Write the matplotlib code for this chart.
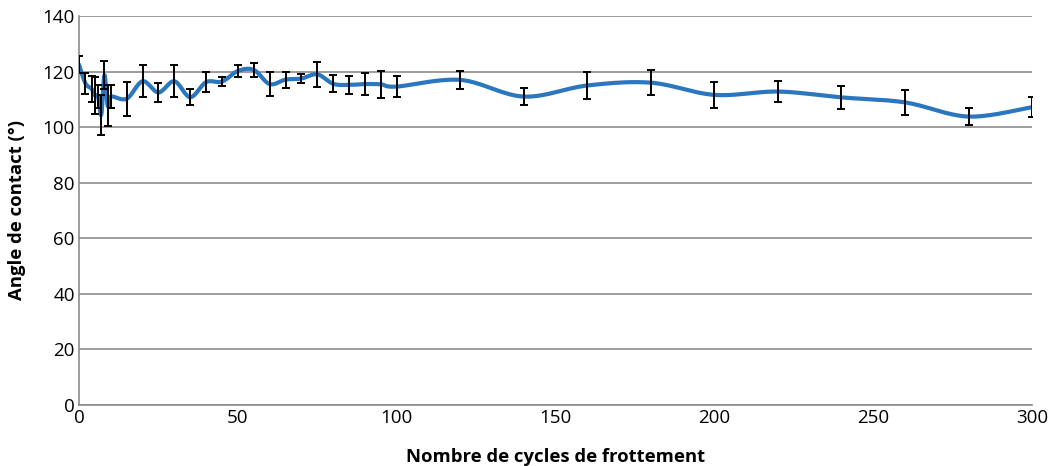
import numpy as np
import matplotlib
matplotlib.use('Agg')
import matplotlib.pyplot as plt

# cycles de frottement et angle de contact mesure (moyenne, ecart-type)
cycles = [0, 2, 4, 5, 6, 7, 8, 9, 10, 15, 20, 25, 30, 35, 40, 45, 50, 55,
          60, 65, 70, 75, 80, 85, 90, 95, 100, 120, 140, 160, 180, 200,
          220, 240, 260, 280, 300]
angle = [122.5, 115.8, 113.7, 111.4, 111.0, 104.5, 118.7, 107.7, 111.0,
         110.2, 116.5, 112.5, 116.5, 110.8, 116.2, 116.4, 120.2, 120.6,
         115.5, 117.1, 117.5, 119.0, 115.6, 115.2, 115.5, 115.4, 114.6,
         117.0, 111.0, 115.0, 116.0, 111.6, 112.8, 110.7, 108.9, 103.8, 107.2]
ecart = [3.0, 3.8, 4.7, 6.6, 4.0, 7.2, 5.0, 7.3, 4.0, 6.2, 5.8, 3.5, 5.7,
         2.9, 3.7, 1.5, 2.1, 2.4, 4.2, 2.9, 1.7, 4.4, 3.0, 3.3, 4.0, 4.8,
         3.9, 3.3, 3.2, 4.8, 4.5, 4.7, 3.7, 4.2, 4.4, 3.0, 3.5]


def lissage(x, y, n=20):
    # courbe lissee type Catmull-Rom (comme la courbe lissee d'Excel)
    x = np.asarray(x, float)
    y = np.asarray(y, float)
    px = np.concatenate([[x[0]], x, [x[-1]]])
    py = np.concatenate([[y[0]], y, [y[-1]]])
    xs, ys = [], []
    t = np.linspace(0, 1, n)
    for i in range(1, len(px) - 2):
        x0, x1, x2, x3 = px[i - 1], px[i], px[i + 1], px[i + 2]
        y0, y1, y2, y3 = py[i - 1], py[i], py[i + 1], py[i + 2]
        c1x, c1y = x1 + (x2 - x0) / 6, y1 + (y2 - y0) / 6
        c2x, c2y = x2 - (x3 - x1) / 6, y2 - (y3 - y1) / 6
        bx = (1 - t)**3 * x1 + 3 * (1 - t)**2 * t * c1x + 3 * (1 - t) * t**2 * c2x + t**3 * x2
        by = (1 - t)**3 * y1 + 3 * (1 - t)**2 * t * c1y + 3 * (1 - t) * t**2 * c2y + t**3 * y2
        xs.extend(bx)
        ys.extend(by)
    return np.array(xs), np.array(ys)


plt.rcParams['font.family'] = ['Open Sans', 'DejaVu Sans']

fig = plt.figure(figsize=(10.51, 4.66), dpi=100)
ax = fig.add_axes([0.0752, 0.1309, 0.9068, 0.8348])

xs, ys = lissage(cycles, angle)
ax.plot(xs, ys, color='#2a77c0', lw=3.0, zorder=3, solid_capstyle='round')
ax.errorbar(cycles, angle, yerr=ecart, fmt='none', ecolor='black',
            elinewidth=1.4, capsize=3, capthick=1.4, zorder=4)

ax.set_xlim(0, 300)
ax.set_ylim(0, 140)
ax.set_xticks(np.arange(0, 301, 50))
ax.set_yticks(np.arange(0, 141, 20))
ax.grid(axis='y', color='#8c8c8c', lw=1.2)
ax.set_axisbelow(True)
for s in ['top', 'right']:
    ax.spines[s].set_visible(False)
for s in ['left', 'bottom']:
    ax.spines[s].set_color('#8c8c8c')
    ax.spines[s].set_linewidth(1.2)
ax.tick_params(length=0, labelsize=13.5, pad=3)

ax.set_xlabel('Nombre de cycles de frottement', fontsize=13.3, fontweight='bold', labelpad=15)
ax.set_ylabel('Angle de contact (°)', fontsize=13.3, fontweight='bold', labelpad=12)

plt.savefig('out.png', dpi=100)
